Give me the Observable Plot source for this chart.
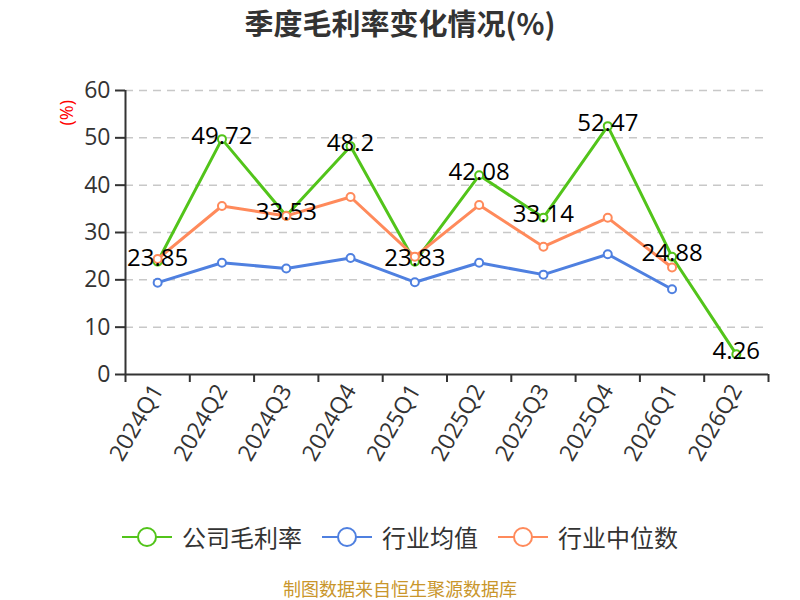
<!DOCTYPE html>
<html>
<head>
<meta charset="utf-8">
<script src="https://cdn.jsdelivr.net/npm/d3@7"></script>
<script src="https://cdn.jsdelivr.net/npm/@observablehq/plot@0.6"></script>
<style>
  body { margin: 0; width: 800px; height: 600px; position: relative; background: #fff;
         font-family: "Open Sans", "Noto Sans CJK SC", sans-serif; overflow: hidden; }
  #title { position: absolute; top: 0; left: 0; width: 800px; height: 44px; line-height: 44px;
           text-align: center; font-size: 29px; font-weight: bold; color: #333;
           font-family: "Noto Sans CJK SC", sans-serif; }
  #chart { position: absolute; top: 45px; left: 0; }
  #legend { position: absolute; top: 521px; left: 0; width: 800px; height: 32px;
            display: flex; justify-content: center; align-items: center; }
  .item { display: flex; align-items: center; margin: 0 10px; }
  .item span { font-size: 24px; line-height: 32px; color: #333; margin-left: 10px; font-family: "Noto Sans CJK SC", sans-serif; }
  #caption { position: absolute; top: 578px; left: 0; width: 800px; height: 21px; text-align: center;
             font-size: 18px; line-height: 21px; color: #c9962b; font-family: "Noto Sans CJK SC", sans-serif; }
</style>
</head>
<body>
<div id="title">季度毛利率变化情况(%)</div>
<div id="chart"></div>
<div id="legend"></div>
<div id="caption">制图数据来自恒生聚源数据库</div>
<script>
const quarters = ["2024Q1","2024Q2","2024Q3","2024Q4","2025Q1","2025Q2","2025Q3","2025Q4","2026Q1","2026Q2"];
const companyMargin = [23.85, 49.72, 33.53, 48.2, 23.83, 42.08, 33.14, 52.47, 24.88, 4.26];
const industryAvg = [19.4, 23.6, 22.4, 24.6, 19.5, 23.6, 21.1, 25.4, 18.0];
const industryMedian = [24.4, 35.6, 33.5, 37.5, 24.9, 35.8, 27.0, 33.1, 22.6];
const yTicks = [0, 10, 20, 30, 40, 50, 60];
const seriesNames = ["公司毛利率", "行业均值", "行业中位数"];
const seriesColors = ["#52c41a", "#4f80e0", "#ff8a5b"];

const toRows = (vals) => vals.map((v, i) => ({ x: i + 0.5, q: quarters[i], v }));
const rowsCompany = toRows(companyMargin);
const rowsAvg = toRows(industryAvg);
const rowsMedian = toRows(industryMedian);

const font = '"Open Sans", "Noto Sans CJK SC", sans-serif';

const seriesMarks = (rows, color) => [
  Plot.line(rows, { x: "x", y: "v", stroke: color, strokeWidth: 3 }),
  Plot.dot(rows, { x: "x", y: "v", r: 4, fill: "#fff", stroke: color, strokeWidth: 2 })
];

const chart = Plot.plot({
  width: 800,
  height: 455,
  marginTop: 45,
  marginBottom: 126,
  marginLeft: 125,
  marginRight: 32,
  style: { fontFamily: font, color: "#333", background: "transparent" },
  x: { type: "linear", domain: [0, quarters.length] },
  y: { domain: [0, 60] },
  marks: [
    Plot.gridY(yTicks.filter(t => t > 0), { stroke: "#c8c8c8", strokeOpacity: 1, strokeWidth: 1.5, strokeDasharray: "8,6" }),
    Plot.axisY({ ticks: yTicks, tickSize: 10, tickPadding: 5, fontSize: 23, label: null, stroke: "#333", strokeWidth: 2, fill: "#333" }),
    Plot.axisX({ ticks: d3.range(quarters.length + 1), tickFormat: () => "", tickSize: 8, stroke: "#333", strokeWidth: 2, label: null }),
    Plot.axisX({ ticks: quarters.map((q, i) => i + 0.5), tickFormat: t => quarters[Math.floor(t)], tickSize: 0, tickPadding: 12, tickRotate: -60, fontSize: 23, label: null, fill: "#333" }),
    Plot.ruleX([0], { stroke: "#333", strokeWidth: 2 }),
    Plot.ruleY([0], { stroke: "#333", strokeWidth: 2 }),
    Plot.text(["(%)"], { frameAnchor: "top-left", dx: -65, dy: 35, rotate: -90, fill: "red", fontSize: 18, text: d => d }),
    ...seriesMarks(rowsCompany, seriesColors[0]),
    ...seriesMarks(rowsAvg, seriesColors[1]),
    ...seriesMarks(rowsMedian, seriesColors[2]),
    Plot.text(rowsCompany, { x: "x", y: "v", text: d => String(d.v), dy: -3, fontSize: 24, fill: "#000" })
  ]
});
document.getElementById("chart").appendChild(chart);

const legend = document.getElementById("legend");
seriesNames.forEach((name, i) => {
  const item = document.createElement("div");
  item.className = "item";
  item.innerHTML = `<svg width="50" height="22"><line x1="0" y1="11" x2="50" y2="11" stroke="${seriesColors[i]}" stroke-width="2"/><circle cx="25" cy="11" r="9" fill="#fff" stroke="${seriesColors[i]}" stroke-width="2"/></svg><span>${name}</span>`;
  legend.appendChild(item);
});
</script>
</body>
</html>
